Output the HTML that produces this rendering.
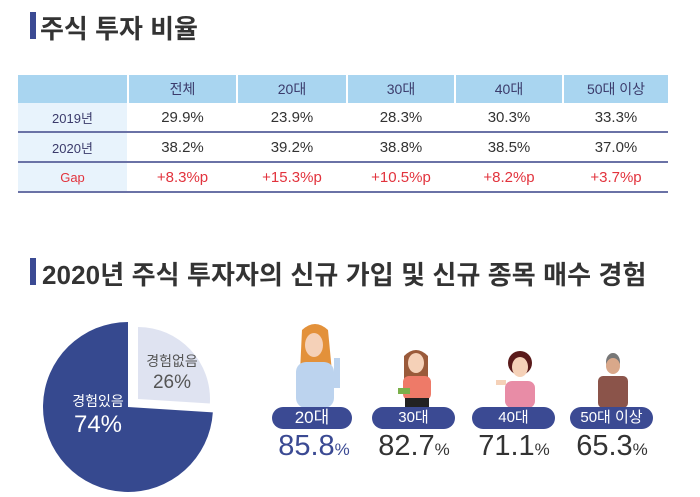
<!DOCTYPE html>
<html><head><meta charset="utf-8">
<style>
body{margin:0;width:700px;height:497px;background:#fff;overflow:hidden;font-family:"Liberation Sans","Noto Sans CJK KR",sans-serif;position:relative}
.t{position:absolute;color:#333;font-weight:bold;font-size:25px;letter-spacing:0px}
.bar{position:absolute;background:#3b4a93;width:6px}
table{position:absolute;left:18px;top:75px;border-collapse:collapse;width:650px;table-layout:fixed}
td{text-align:center;font-size:15px;color:#333;height:28px;padding:0;border-left:2px solid #fff}
tr.h td{background:#a9d5f0;color:#3b3b6b;height:28px;font-size:14px}
tr.r td{border-bottom:2px solid #6a72a6}
td.f{background:#e8f3fc;color:#3b3b6b;font-size:13px;border-left:none}
tr.g td{color:#e2333d}
.pill{position:absolute;background:#3b4a93;color:#fff;border-radius:11px;text-align:center;font-size:15px;height:22px;line-height:22px}
.val{position:absolute;text-align:center;font-size:29px;color:#333;width:100px}
.val small{font-size:17px}
</style></head><body>
<div class="bar" style="left:30px;top:12px;height:27px"></div>
<div class="t" style="left:40px;top:9px;font-size:26px;font-weight:600">주식 투자 비율</div>
<table>
<colgroup><col style="width:110px"><col style="width:109px"><col style="width:110px"><col style="width:108px"><col style="width:108px"><col style="width:105px"></colgroup>
<tr class="h"><td class="f" style="background:#a9d5f0"></td><td>전체</td><td>20대</td><td>30대</td><td>40대</td><td>50대 이상</td></tr>
<tr class="r"><td class="f">2019년</td><td>29.9%</td><td>23.9%</td><td>28.3%</td><td>30.3%</td><td>33.3%</td></tr>
<tr class="r"><td class="f">2020년</td><td>38.2%</td><td>39.2%</td><td>38.8%</td><td>38.5%</td><td>37.0%</td></tr>
<tr class="r g"><td class="f" style="color:#e2333d">Gap</td><td>+8.3%p</td><td>+15.3%p</td><td>+10.5%p</td><td>+8.2%p</td><td>+3.7%p</td></tr>
</table>
<div class="bar" style="left:30px;top:258px;height:27px"></div>
<div class="t" style="left:42px;top:255px;font-size:26px;font-weight:600;letter-spacing:0.1px">2020년 주식 투자자의 신규 가입 및 신규 종목 매수 경험</div>

<svg id="pie" width="700" height="497" style="position:absolute;left:0;top:0"></svg>

<svg width="700" height="497" style="position:absolute;left:0;top:0">
<g>
<path d="M302 330 Q315 318 328 330 L332 372 L300 372 Z" fill="#e3913a"/>
<rect x="296" y="362" width="38" height="46" rx="10" fill="#bcd3ee"/>
<ellipse cx="314" cy="345" rx="9" ry="12" fill="#f5d1b8"/>
<rect x="334" y="358" width="6" height="30" fill="#bcd3ee"/>
</g>
<g>
<path d="M404 356 Q416 344 428 356 L428 385 L404 385 Z" fill="#9a5a3a"/>
<ellipse cx="416" cy="363" rx="8" ry="10" fill="#f5d1b8"/>
<rect x="403" y="376" width="28" height="24" rx="6" fill="#ee7a68"/>
<rect x="405" y="398" width="24" height="10" fill="#222"/>
<rect x="398" y="388" width="12" height="6" fill="#7ab04a"/>
</g>
<g>
<ellipse cx="520" cy="363" rx="12" ry="12" fill="#5a1a1a"/>
<ellipse cx="520" cy="367" rx="8" ry="10" fill="#f5d1b8"/>
<rect x="505" y="381" width="30" height="27" rx="7" fill="#e88ca6"/>
<rect x="496" y="380" width="10" height="5" fill="#f5d1b8"/>
</g>
<g>
<ellipse cx="613" cy="362" rx="7" ry="9" fill="#777"/>
<ellipse cx="613" cy="366" rx="7" ry="8" fill="#d9a88a"/>
<rect x="598" y="376" width="30" height="32" rx="5" fill="#8b544a"/>
</g>
</svg>

<div class="pill" style="left:272px;top:407px;width:80px;font-size:17px">20대</div>
<div class="pill" style="left:372px;top:407px;width:83px">30대</div>
<div class="pill" style="left:472px;top:407px;width:83px">40대</div>
<div class="pill" style="left:570px;top:407px;width:83px">50대 이상</div>
<div class="val" style="left:264px;top:430px;color:#3b4a93">85.8<small>%</small></div>
<div class="val" style="left:364px;top:430px">82.7<small>%</small></div>
<div class="val" style="left:464px;top:430px">71.1<small>%</small></div>
<div class="val" style="left:562px;top:430px">65.3<small>%</small></div>

<script>
const pieLabels=["경험없음","경험있음"];
const pieValues=[26,74];
const svg=document.getElementById('pie');
const NS="http://www.w3.org/2000/svg";
const total=pieValues.reduce((a,b)=>a+b,0);
function pt(cx,cy,r,a){return [cx+r*Math.sin(a),cy-r*Math.cos(a)];}
let start=0;
pieValues.forEach((v,i)=>{
  const ang=v/total*2*Math.PI;
  const small=i===0;
  const cx=small?138:128, cy=small?399:407, r=small?72:85;
  const p1=pt(cx,cy,r,start), p2=pt(cx,cy,r,start+ang);
  const large=ang>Math.PI?1:0;
  const path=document.createElementNS(NS,'path');
  path.setAttribute('d',`M${cx} ${cy} L${p1[0]} ${p1[1]} A${r} ${r} 0 ${large} 1 ${p2[0]} ${p2[1]} Z`);
  path.setAttribute('fill',small?'#dfe3f1':'#36498f');
  
  
  svg.appendChild(path);
  const lp=small?[172,380]:[98,420];
  const t1=document.createElementNS(NS,'text');
  t1.setAttribute('x',lp[0]);t1.setAttribute('y',lp[1]-14);
  t1.setAttribute('text-anchor','middle');
  t1.setAttribute('font-size','14');
  t1.setAttribute('fill',small?'#555':'#fff');
  t1.textContent=pieLabels[i];
  
  
  svg.appendChild(t1);
  const t2=document.createElementNS(NS,'text');
  t2.setAttribute('x',lp[0]);t2.setAttribute('y',lp[1]+(small?8:12));
  t2.setAttribute('text-anchor','middle');
  t2.setAttribute('font-size',small?'19':'24');
  t2.setAttribute('fill',small?'#555':'#fff');
  t2.textContent=v+'%';
  
  
  svg.appendChild(t2);
  start+=ang;
});
</script>
</body></html>
